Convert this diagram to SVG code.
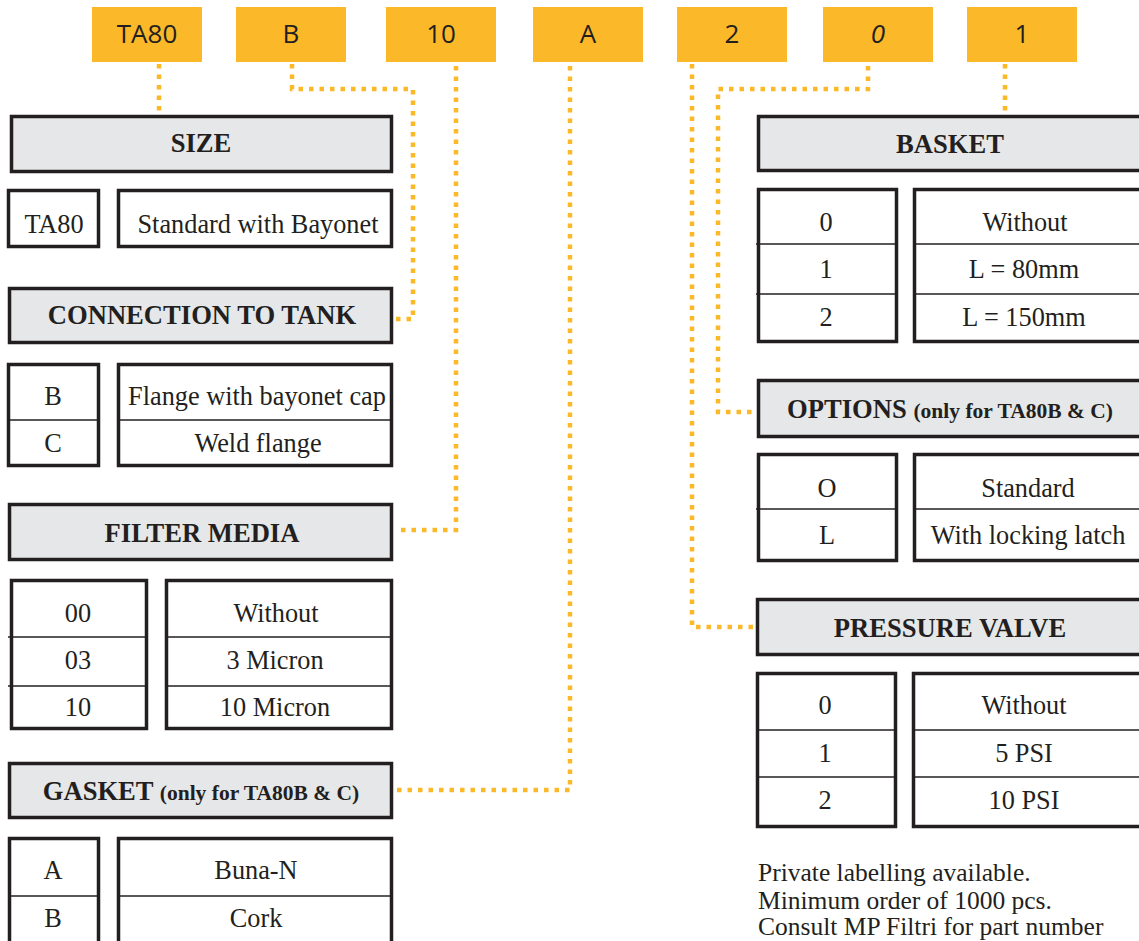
<svg xmlns="http://www.w3.org/2000/svg" width="1139" height="941" viewBox="0 0 1139 941">
<style>
.code{fill:#FBB829}
.codet{font-family:"Open Sans","DejaVu Sans",sans-serif;font-size:26px;fill:#231F20;text-anchor:middle}
.hdr{fill:#E6E7E8;stroke:#231F20;stroke-width:3.5}
.cell{fill:#FFFFFF;stroke:#231F20;stroke-width:3.5}
.div{stroke:#231F20;stroke-width:1.6;fill:none}
.ht{font-family:"Liberation Serif","Times New Roman",serif;font-weight:bold;font-size:26.6px;fill:#231F20;text-anchor:middle}
.hs{font-size:21.5px}
.t{font-family:"Liberation Serif","Times New Roman",serif;font-size:26.3px;fill:#231F20;text-anchor:middle}
.note{font-family:"Liberation Serif","Times New Roman",serif;font-size:25.5px;fill:#231F20}
.con{fill:none;stroke:#FBB829;stroke-width:4.5;stroke-dasharray:4.5 6}
</style>
<rect width="1139" height="941" fill="#FFFFFF"/>

<g id="connectors">
<path class="con" d="M159 64 V115"/>
<path class="con" d="M292 64 V89 H413 V319 H395"/>
<path class="con" d="M456 66 V530 H395"/>
<path class="con" d="M570 66 V790 H395"/>
<path class="con" d="M692 64 V627 H756"/>
<path class="con" d="M868 66 V89 H718 V412 H757"/>
<path class="con" d="M1005 64 V115"/>
</g>

<g id="code-TA80"><rect class="code" x="92" y="7" width="110" height="55"/><text class="codet" x="147" y="43">TA80</text></g>
<g id="code-B"><rect class="code" x="236" y="7" width="110" height="55"/><text class="codet" x="291" y="43">B</text></g>
<g id="code-10"><rect class="code" x="386" y="7" width="110" height="55"/><text class="codet" x="441" y="43">10</text></g>
<g id="code-A"><rect class="code" x="533" y="7" width="110" height="55"/><text class="codet" x="588" y="43">A</text></g>
<g id="code-2"><rect class="code" x="677" y="7" width="110" height="55"/><text class="codet" x="732" y="43">2</text></g>
<g id="code-0"><rect class="code" x="823" y="7" width="110" height="55"/><text class="codet" x="878" y="43" font-style="italic">0</text></g>
<g id="code-1"><rect class="code" x="967" y="7" width="110" height="55"/><text class="codet" x="1022" y="43">1</text></g>

<g id="size">
<rect class="hdr" x="11.5" y="116.5" width="380" height="55"/>
<text class="ht" x="201" y="152">SIZE</text>
<rect class="cell" x="8.5" y="190.5" width="90" height="56"/>
<text class="t" x="54" y="233">TA80</text>
<rect class="cell" x="118.5" y="190.5" width="273" height="56"/>
<text class="t" x="258" y="233">Standard with Bayonet</text>
</g>

<g id="connection">
<rect class="hdr" x="9.5" y="288.5" width="382" height="54"/>
<text class="ht" x="202" y="324">CONNECTION TO TANK</text>
<rect class="cell" x="8.5" y="364.5" width="90" height="101"/>
<line class="div" x1="8" y1="420" x2="98" y2="420"/>
<text class="t" x="53" y="405">B</text>
<text class="t" x="53" y="452">C</text>
<rect class="cell" x="118.5" y="364.5" width="273" height="101"/>
<line class="div" x1="118" y1="420" x2="391" y2="420"/>
<text class="t" x="257" y="405">Flange with bayonet cap</text>
<text class="t" x="258" y="452">Weld flange</text>
</g>

<g id="filter-media">
<rect class="hdr" x="9.5" y="504.5" width="382" height="55"/>
<text class="ht" x="202" y="542">FILTER MEDIA</text>
<rect class="cell" x="11.5" y="580.5" width="135" height="148"/>
<line class="div" x1="8" y1="637" x2="146" y2="637"/>
<line class="div" x1="8" y1="686" x2="146" y2="686"/>
<text class="t" x="78" y="622">00</text>
<text class="t" x="78" y="669">03</text>
<text class="t" x="78" y="716">10</text>
<rect class="cell" x="166.5" y="580.5" width="225" height="148"/>
<line class="div" x1="166" y1="637" x2="391" y2="637"/>
<line class="div" x1="166" y1="686" x2="391" y2="686"/>
<text class="t" x="276" y="622">Without</text>
<text class="t" x="275" y="669">3 Micron</text>
<text class="t" x="275" y="716">10 Micron</text>
</g>

<g id="gasket">
<rect class="hdr" x="9.5" y="763.5" width="382" height="54"/>
<text class="ht" x="201" y="800">GASKET <tspan class="hs">(only for TA80B &amp; C)</tspan></text>
<rect class="cell" x="9.5" y="838.5" width="89" height="120"/>
<line class="div" x1="8" y1="896" x2="98" y2="896"/>
<text class="t" x="53" y="879">A</text>
<text class="t" x="53" y="927">B</text>
<rect class="cell" x="118.5" y="838.5" width="273" height="120"/>
<line class="div" x1="118" y1="896" x2="391" y2="896"/>
<text class="t" x="256" y="879">Buna-N</text>
<text class="t" x="256" y="927">Cork</text>
</g>

<g id="basket">
<rect class="hdr" x="758.5" y="116.5" width="390" height="54"/>
<text class="ht" x="950" y="153">BASKET</text>
<rect class="cell" x="758.5" y="189.5" width="138" height="152"/>
<line class="div" x1="756" y1="244" x2="896" y2="244"/>
<line class="div" x1="756" y1="294" x2="896" y2="294"/>
<text class="t" x="826" y="231">0</text>
<text class="t" x="826" y="278">1</text>
<text class="t" x="826" y="326">2</text>
<rect class="cell" x="914.5" y="189.5" width="240" height="152"/>
<line class="div" x1="914" y1="244" x2="1139" y2="244"/>
<line class="div" x1="914" y1="294" x2="1139" y2="294"/>
<text class="t" x="1025" y="231">Without</text>
<text class="t" x="1024" y="278">L = 80mm</text>
<text class="t" x="1024" y="326">L = 150mm</text>
</g>

<g id="options">
<rect class="hdr" x="758.5" y="380.5" width="390" height="56"/>
<text class="ht" x="950" y="418">OPTIONS <tspan class="hs">(only for TA80B &amp; C)</tspan></text>
<rect class="cell" x="758.5" y="454.5" width="138" height="106"/>
<line class="div" x1="756" y1="509" x2="896" y2="509"/>
<text class="t" x="827" y="497">O</text>
<text class="t" x="827" y="544">L</text>
<rect class="cell" x="914.5" y="454.5" width="240" height="106"/>
<line class="div" x1="914" y1="509" x2="1139" y2="509"/>
<text class="t" x="1028" y="497">Standard</text>
<text class="t" x="1028" y="544">With locking latch</text>
</g>

<g id="pressure-valve">
<rect class="hdr" x="757.5" y="599.5" width="390" height="55"/>
<text class="ht" x="950" y="637">PRESSURE VALVE</text>
<rect class="cell" x="757.5" y="673.5" width="138" height="153"/>
<line class="div" x1="756" y1="730" x2="895" y2="730"/>
<line class="div" x1="756" y1="777" x2="895" y2="777"/>
<text class="t" x="825" y="714">0</text>
<text class="t" x="825" y="762">1</text>
<text class="t" x="825" y="809">2</text>
<rect class="cell" x="913.5" y="673.5" width="240" height="153"/>
<line class="div" x1="913" y1="730" x2="1139" y2="730"/>
<line class="div" x1="913" y1="777" x2="1139" y2="777"/>
<text class="t" x="1024" y="714">Without</text>
<text class="t" x="1024" y="762">5 PSI</text>
<text class="t" x="1024" y="809">10 PSI</text>
</g>

<g id="note">
<text class="note" x="758" y="881">Private labelling available.</text>
<text class="note" x="758" y="908.5">Minimum order of 1000 pcs.</text>
<text class="note" x="758" y="935">Consult MP Filtri for part number</text>
</g>
</svg>
